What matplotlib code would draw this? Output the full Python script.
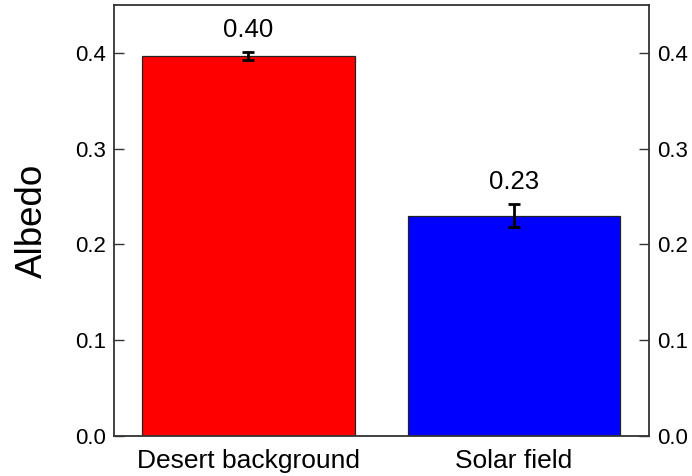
import matplotlib
matplotlib.use("Agg")
import matplotlib.pyplot as plt

categories = ["Desert background", "Solar field"]
albedo = [0.397, 0.230]
errors = [0.004, 0.012]
labels = ["0.40", "0.23"]
colors = ["#ff0000", "#0000ff"]
yticks = [0.0, 0.1, 0.2, 0.3, 0.4]

plt.rcParams['font.family'] = ['Liberation Sans', 'DejaVu Sans']

fig = plt.figure(figsize=(6.92, 4.76), dpi=100)
ax = fig.add_axes([0.1647, 0.084, 0.773, 0.9055])

x = list(range(len(categories)))
ax.bar(x, albedo, width=0.8, color=colors, edgecolor='#222222', linewidth=0.9, zorder=2)
ax.errorbar(x, albedo, yerr=errors, fmt='none', ecolor='black', elinewidth=2,
            capsize=4, capthick=2, zorder=3)
for xi, v, e, t in zip(x, albedo, errors, labels):
    ax.annotate(t, xy=(xi, v + e), xytext=(0, 11), textcoords='offset points',
                ha='center', va='baseline', fontsize=18.5)

ax.set_xlim(-0.505, 1.507)
ax.set_ylim(0, 0.45)
ax.set_yticks(yticks)
ax.set_yticklabels([f"{v:.1f}" for v in yticks])
ax.set_xticks(x)
ax.set_xticklabels(categories, fontsize=19)
ax.tick_params(axis='y', direction='in', length=7, width=1, labelsize=16,
               right=True, labelright=True, pad=6, color='#333333')
ax.tick_params(axis='x', length=0, pad=9.5)
ax.set_ylabel("Albedo", fontsize=26.5, labelpad=18)
for s in ax.spines.values():
    s.set_linewidth(1.3)
    s.set_color('#333333')

fig.savefig("out.png", dpi=100)
